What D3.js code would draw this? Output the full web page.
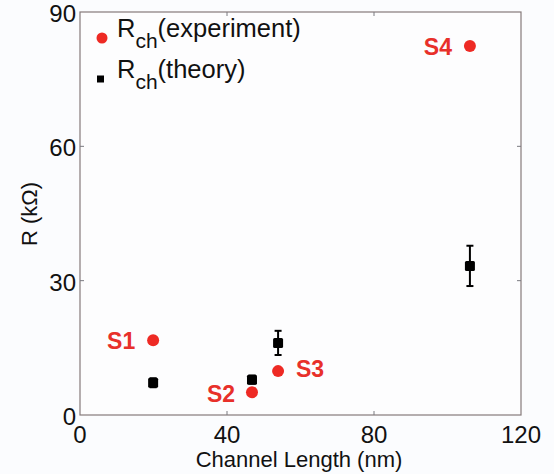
<!DOCTYPE html>
<html lang="en">
<head>
<meta charset="UTF-8">
<title>R vs Channel Length</title>
<style>
  body { margin: 0; background: #fbfcfe; }
  svg { display: block; font-family: "Liberation Sans", Arial, Helvetica, sans-serif; }
  .tick-label { font-size: 24px; fill: #111; }
  .axis-title { font-size: 22px; fill: #111; }
  .legend-text { font-size: 25.5px; fill: #111; }
  .sample { font-size: 23px; font-weight: bold; fill: #e8302a; }
</style>
</head>
<body>
<svg id="chart" width="554" height="474"></svg>
<script src="https://d3js.org/d3.v7.min.js"></script>
<script>
// data
var samples = ['S1', 'S2', 'S3', 'S4'];
var channelLength = [19.9, 46.8, 53.9, 106.1];
var rExperiment = [16.7, 5.1, 9.8, 82.4];
var rTheory = [7.2, 7.9, 16.1, 33.3];
var rTheoryErr = [1.0, 0.9, 2.7, 4.5];
var xTicks = [0, 40, 80, 120];
var yTicks = [0, 30, 60, 90];

var red = '#ee2a24';
var svg = d3.select('#chart');
// plot box ("top" is taken by window, so other names)
var plotL = 80, plotR = 521, plotT = 12, plotB = 415;

var x = d3.scaleLinear().domain([0, 120]).range([plotL, plotR]);
var y = d3.scaleLinear().domain([0, 90]).range([plotB, plotT]);

// frame
svg.append('rect')
    .attr('x', plotL).attr('y', plotT)
    .attr('width', plotR - plotL).attr('height', plotB - plotT)
    .attr('fill', '#fdfdfe').attr('stroke', '#857a7a').attr('stroke-width', 1.2);

// inward ticks on all four sides
var tl = 4;
xTicks.slice(1, -1).forEach(function (t) {
    svg.append('line').attr('x1', x(t)).attr('x2', x(t)).attr('y1', plotB).attr('y2', plotB - tl).attr('stroke', '#7a7a80');
    svg.append('line').attr('x1', x(t)).attr('x2', x(t)).attr('y1', plotT).attr('y2', plotT + tl).attr('stroke', '#7a7a80');
});
yTicks.slice(1, -1).forEach(function (t) {
    svg.append('line').attr('x1', plotL).attr('x2', plotL + tl).attr('y1', y(t)).attr('y2', y(t)).attr('stroke', '#7a7a80');
    svg.append('line').attr('x1', plotR).attr('x2', plotR - tl).attr('y1', y(t)).attr('y2', y(t)).attr('stroke', '#7a7a80');
});

// tick labels
svg.selectAll('.xl').data(xTicks).enter().append('text')
    .attr('class', 'tick-label')
    .attr('x', function (d) { return x(d); })
    .attr('y', plotB + 28)
    .attr('text-anchor', 'middle')
    .text(function (d) { return d; });

svg.selectAll('.yl').data(yTicks).enter().append('text')
    .attr('class', 'tick-label')
    .attr('x', plotL - 4)
    .attr('y', function (d) { return y(d) + 10; })
    .attr('text-anchor', 'end')
    .text(function (d) { return d; });

// axis titles
svg.append('text').attr('class', 'axis-title')
    .attr('x', 299).attr('y', 467)
    .attr('text-anchor', 'middle')
    .text('Channel Length (nm)');

svg.append('text').attr('class', 'axis-title')
    .attr('transform', 'translate(37,214) rotate(-90)')
    .attr('text-anchor', 'middle')
    .text('R (kΩ)');

// theory error bars
var cap = 3.5;
channelLength.forEach(function (c, i) {
    var g = svg.append('g').attr('stroke', '#000').attr('stroke-width', 2);
    var y1 = y(rTheory[i] + rTheoryErr[i]), y2 = y(rTheory[i] - rTheoryErr[i]);
    g.append('line').attr('x1', x(c)).attr('x2', x(c)).attr('y1', y1).attr('y2', y2);
    g.append('line').attr('x1', x(c) - cap).attr('x2', x(c) + cap).attr('y1', y1).attr('y2', y1);
    g.append('line').attr('x1', x(c) - cap).attr('x2', x(c) + cap).attr('y1', y2).attr('y2', y2);
});

// theory squares
svg.selectAll('.th').data(channelLength).enter().append('rect')
    .attr('x', function (d) { return x(d) - 5; })
    .attr('y', function (d, i) { return y(rTheory[i]) - 5; })
    .attr('width', 10).attr('height', 10)
    .attr('rx', 1.5)
    .attr('fill', '#000');

// experiment dots
svg.selectAll('.ex').data(channelLength).enter().append('circle')
    .attr('cx', function (d) { return x(d); })
    .attr('cy', function (d, i) { return y(rExperiment[i]); })
    .attr('r', 6)
    .attr('fill', red);

// sample labels, offset from their red dots
var labelOffsets = [[-32, 9], [-31, 10], [32, 6], [-32, 9]];
svg.selectAll('.sl').data(samples).enter().append('text')
    .attr('class', 'sample')
    .attr('x', function (d, i) { return x(channelLength[i]) + labelOffsets[i][0]; })
    .attr('y', function (d, i) { return y(rExperiment[i]) + labelOffsets[i][1]; })
    .attr('text-anchor', 'middle')
    .text(function (d) { return d; });

// legend
var legend = [
    { sub: 'ch', rest: '(experiment)', y: 38, type: 'dot' },
    { sub: 'ch', rest: '(theory)', y: 79, type: 'square' }
];
legend.forEach(function (l) {
    if (l.type === 'dot') {
        svg.append('circle').attr('cx', 102).attr('cy', l.y).attr('r', 5.5).attr('fill', red);
    } else {
        svg.append('rect').attr('x', 97).attr('y', l.y - 3.5).attr('width', 7).attr('height', 7).attr('fill', '#000');
    }
    var t = svg.append('text').attr('class', 'legend-text').attr('x', 117).attr('y', l.y - 1);
    t.append('tspan').text('R');
    t.append('tspan').attr('dy', 11).attr('font-size', 21).text(l.sub);
    t.append('tspan').attr('dy', -11).text(l.rest);
});
</script>
</body>
</html>
